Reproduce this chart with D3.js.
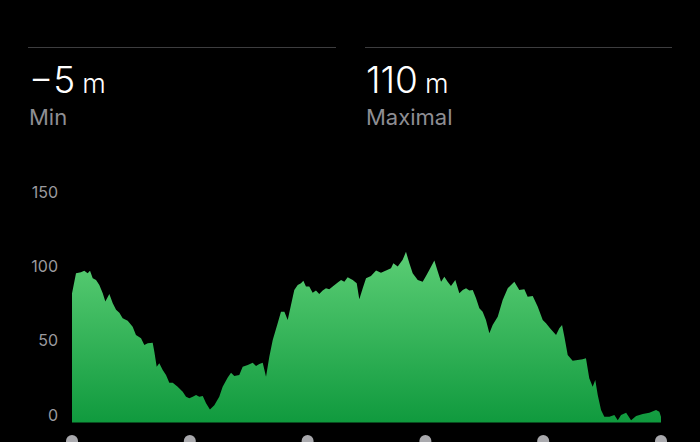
<html>

<head>
    <script src="https://cdn.jsdelivr.net/npm/d3@7"></script>
    <style>
        body {
            margin: 0;
            background: #000;
        }

        svg text {
            font-family: Inter, Roboto, "Noto Sans", sans-serif;
        }
    </style>
</head>

<body>
    <script>
        // distance along the route (km) and elevation (m)
        var dist = [0, 0.34, 0.76, 1.04, 1.33, 1.53, 1.76, 2.04, 2.32, 2.61, 2.83, 3.17, 3.46, 3.74, 4.02, 4.30, 4.73, 5.15, 5.43, 5.86,
            6.14, 6.43, 6.85, 6.99, 7.19, 7.41, 7.70, 7.98, 8.26, 8.55, 8.97, 9.40, 9.68, 9.96, 10.25, 10.53, 10.81, 11.10, 11.38, 11.71,
            12.08, 12.50, 12.79, 13.22, 13.50, 13.78, 14.20, 14.49, 14.92, 15.34, 15.62, 15.90, 16.19, 16.47, 16.75, 17.04, 17.46, 17.74, 18.03, 18.31,
            18.59, 18.87, 19.16, 19.44, 19.64, 19.86, 20.14, 20.43, 20.71, 20.99, 21.28, 21.56, 21.84, 22.13, 22.56, 22.84, 23.12, 23.40, 23.83, 24.17,
            24.39, 24.68, 24.96, 25.38, 25.81, 26.23, 26.66, 27.08, 27.28, 27.65, 28.07, 28.35, 28.64, 28.92, 29.35, 29.77, 30.05, 30.33, 30.76, 31.05,
            31.33, 31.61, 31.89, 32.17, 32.54, 32.88, 33.17, 33.45, 33.73, 34.02, 34.30, 34.58, 34.86, 35.14, 35.43, 35.71, 36.14, 36.56, 36.99, 37.55,
            37.97, 38.40, 38.68, 39.11, 39.53, 39.96, 40.24, 40.58, 41.09, 41.37, 41.60, 41.80, 42.08, 42.50, 42.93, 43.35, 43.63, 43.91, 44.20, 44.42,
            44.63, 44.91, 45.19, 45.62, 46.04, 46.33, 46.61, 47.04, 47.46, 47.89, 48.45, 49.01, 49.58, 49.86, 50];

        var elev = [82, 95.6, 96.3, 97.2, 95.6, 97.2, 92.2, 91.1, 87.7, 82.1, 76.5, 81.6, 75.4, 70.9, 69, 65.2, 63.6, 59.6, 54, 51.8,
            47.2, 48.4, 48.8, 42.7, 32.6, 34.9, 30.4, 27, 21.8, 21.8, 19.1, 15.7, 12.3, 11.3, 12.3, 13.5, 12.3, 12.8, 7.9, 3.8,
            6.7, 12.3, 19.1, 25.4, 28.5, 26.3, 27, 32.6, 33.7, 35.3, 33.1, 34.4, 35.3, 25.8, 39.3, 50.6, 61.9, 69.7, 69.7, 64.1,
            74.2, 84.3, 87.7, 88.9, 90.6, 86.6, 86.6, 82.5, 83.9, 81.6, 83.9, 85.5, 84.8, 86.6, 89.3, 91.1, 89.9, 92.9, 91.1, 88.9,
            78.1, 85.5, 92.2, 93.8, 97.4, 96, 97.4, 99, 102.4, 100.1, 104.6, 110, 102.4, 95.6, 91.1, 89.9, 93.8, 97.8, 104.1, 96.7,
            89.9, 93.3, 89.9, 87, 91.1, 82.1, 84.3, 85.5, 83.9, 84.3, 78.7, 72, 69.7, 64.1, 55.1, 60.7, 66.3, 77.6, 85.5, 89.9,
            84.3, 84.8, 79.8, 80.3, 73.1, 64.1, 61.9, 58.5, 54, 58.5, 60.7, 52.8, 40.5, 36.6, 37.1, 37.6, 38.3, 24.8, 19.1, 23.6,
            13.5, 3.4, -1.1, -1.1, 0, -3.4, 0, 1.6, -3.4, -0.7, 0.7, 1.6, 3.4, 2.2, -1.1];

        var yTicks = [0, 50, 100, 150];
        var stats = [
            { value: '\u22125', unit: 'm', label: 'Min' },
            { value: '110', unit: 'm', label: 'Maximal' }
        ];

        var w = 700, h = 442;
        var minElev = -5, maxAxis = 150;

        var data = dist.map((d, i) => { return { d: d, e: elev[i] } });

        var svg = d3.select('body')
            .append('svg')
            .attr('width', w)
            .attr('height', h);

        var x = d3.scaleLinear()
            .domain([0, 50])
            .range([72, 661]);

        var y = d3.scaleLinear()
            .domain([minElev, maxAxis])
            .range([422.5, 192.5]);

        // header blocks
        var head = svg.selectAll('g.stat')
            .data(stats)
            .enter()
            .append('g')
            .attr('class', 'stat')
            .attr('transform', (d, i) => { return 'translate(' + (i ? 365 : 28) + ',0)' });

        head.append('line')
            .attr('x1', 0)
            .attr('x2', (d, i) => { return i ? 307 : 308 })
            .attr('y1', 47.5)
            .attr('y2', 47.5)
            .attr('stroke', '#3d3d3f')
            .attr('stroke-width', 1.2);

        var big = head.append('text')
            .attr('x', 1)
            .attr('y', 93)
            .attr('fill', '#fff');
        big.append('tspan')
            .attr('font-size', 37)
            .attr('font-weight', 300)
            .text((d) => { return d.value });
        big.append('tspan')
            .attr('font-size', 27)
            .attr('font-weight', 300)
            .attr('dx', 7)
            .text((d) => { return d.unit });

        head.append('text')
            .attr('x', 1)
            .attr('y', 125)
            .attr('font-size', 22)
            .attr('fill', '#8e8e93')
            .text((d) => { return d.label });

        // gradient for the area
        var grad = svg.append('defs')
            .append('linearGradient')
            .attr('id', 'green')
            .attr('gradientUnits', 'userSpaceOnUse')
            .attr('x1', 0).attr('x2', 0)
            .attr('y1', 255).attr('y2', 422);
        grad.append('stop').attr('offset', 0).attr('stop-color', '#5acd74');
        grad.append('stop').attr('offset', 1).attr('stop-color', '#109a3e');

        var area = d3.area()
            .x((d) => { return x(d.d) })
            .y0(y(minElev))
            .y1((d) => { return y(d.e) });

        svg.append('path')
            .datum(data)
            .attr('d', area)
            .attr('fill', 'url(#green)');

        // y labels
        svg.selectAll('text.tick')
            .data(yTicks)
            .enter()
            .append('text')
            .attr('class', 'tick')
            .attr('x', 58)
            .attr('y', (d) => { return y(d) })
            .attr('dy', '0.35em')
            .attr('text-anchor', 'end')
            .attr('font-size', 16)
            .attr('fill', '#9a9a9e')
            .text((d) => { return d });

        // markers under the chart
        svg.selectAll('circle')
            .data(d3.range(0, 51, 10))
            .enter()
            .append('circle')
            .attr('cx', (d) => { return x(d) })
            .attr('cy', 441)
            .attr('r', 6)
            .attr('fill', '#a9a9ad');
    </script>
</body>

</html>
